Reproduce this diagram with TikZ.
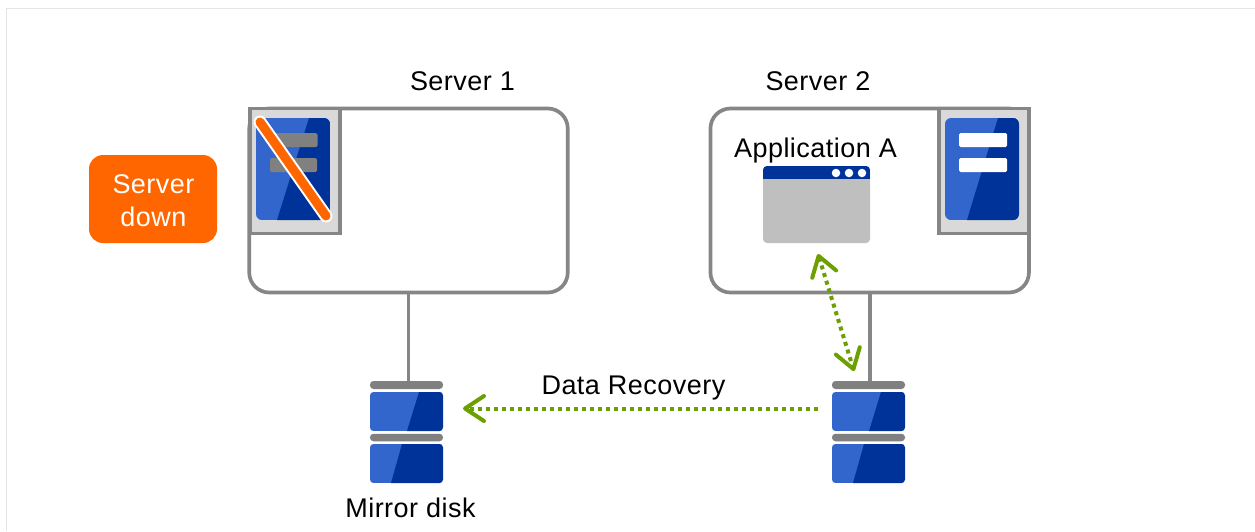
\documentclass[tikz,border=0pt]{standalone}
\usepackage{fontspec}
\setmainfont{Liberation Sans}[LetterSpace=1.8]
\usetikzlibrary{arrows.meta}
\definecolor{lineg}{HTML}{868686}
\definecolor{boxg}{HTML}{D9D9D9}
\definecolor{barg}{HTML}{808080}
\definecolor{wing}{HTML}{BFBFBF}
\definecolor{blueL}{HTML}{3366CC}
\definecolor{blueD}{HTML}{003399}
\definecolor{green}{HTML}{6C9F00}
\definecolor{orng}{HTML}{FF6600}
\newcommand{\darkpanel}[7]{%
  \begin{scope}
    \path[clip,rounded corners=#7] (#1,#2) rectangle (#3,#4);
    \fill[blueL] (#1,#2) rectangle (#3,#4);
    \fill[blueD] (#5,#2) -- (#3,#2) -- (#3,#4) -- (#6,#4) -- cycle;
  \end{scope}}
\newcommand{\diskicon}[2]{% #1 = x offset, #2 = name
  \begin{scope}[shift={(#1,0)}]
    \node[capbar,minimum height=8pt] (#2) at (36.5,385) {};
    \darkpanel{0}{392}{73}{431}{49}{37}{3.5}
    \node[capbar,minimum height=7.5pt] (#2b) at (36.5,437.5) {};
    \darkpanel{0}{444}{73}{483}{32}{21}{3.5}
  \end{scope}}
\tikzset{
  server/.style={draw=lineg,line width=3.7pt,fill=white,rounded corners=20pt,inner sep=0pt,outer sep=0pt,minimum width=318.5pt,minimum height=184pt},
  iconbox/.style={draw=lineg,line width=3.7pt,fill=boxg,inner sep=0pt,outer sep=0pt,minimum width=90pt,minimum height=125pt},
  capbar/.style={fill=barg,rounded corners=3.5pt,inner sep=0pt,outer sep=0pt,minimum width=73pt},
  slot/.style={rounded corners=1.5pt,inner sep=0pt,minimum width=48pt,minimum height=14pt},
  lbl/.style={font=\fontsize{27}{33}\selectfont,anchor=base,inner sep=0pt,text=black},
  link/.style={draw=lineg,line width=3.7pt},
  flow/.style={draw=green,line width=4pt,dash pattern=on 4pt off 4pt},
  barb/.tip={Straight Barb[length=19pt,width=25pt,line width=4pt,round]},
}
\begin{document}
\begin{tikzpicture}[x=1pt,y=-1pt]
\useasboundingbox (0,0) rectangle (1255,531);
\fill[white] (0,0) rectangle (1255,531);
\draw[draw=black!10,line width=1.4pt] (6.5,531) -- (6.5,8.5) -- (1255,8.5);

% servers
\node[server] (srv1) at (408.5,200.5) {};
\node[server] (srv2) at (869.7,200.5) {};
\node[iconbox] (box1) at (295,171) {};
\node[iconbox] (box2) at (984,171) {};

% server 1 icon
\darkpanel{256}{118}{330}{220}{309}{277}{6}
\node[slot,fill=barg,minimum width=45pt] (bar1a) at (295,140) {};
\node[slot,fill=barg,minimum width=47pt] (bar1b) at (293.5,165) {};
\coordinate (strikeA) at (260,122);
\coordinate (strikeB) at (326,216);
\draw[white,line width=13pt,line cap=round] (strikeA) -- (strikeB);
\draw[orng,line width=9pt,line cap=round] (strikeA) -- (strikeB);

% server 2 icon
\darkpanel{945}{118}{1019}{220}{998}{967}{6}
\node[slot,fill=white] (bar2a) at (983,140) {};
\node[slot,fill=white] (bar2b) at (983,165) {};

% application window
\node[fill=wing,rounded corners=4pt,inner sep=0pt,minimum width=107pt,minimum height=77pt] (win) at (816.5,204.5) {};
\begin{scope}
  \path[clip,rounded corners=4pt] (763,166) rectangle (870,243);
  \fill[blueD] (763,166) rectangle (870,179);
\end{scope}
\foreach \i/\dx in {a/836,b/849,c/862}
  \node[circle,fill=white,inner sep=0pt,minimum size=8.5pt] (dot\i) at (\dx,173) {};

% disks
\diskicon{370}{disk1}
\diskicon{832}{disk2}

% connectors
\draw[link] (srv1.south) -- (srv1.south |- disk1.north);
\draw[link] (srv2.south) -- (srv2.south |- disk2.north);
\coordinate (recS) at (818,408.5);
\coordinate (recT) at (463,408.5);
\coordinate (appA) at (818,254);
\coordinate (appB) at (854,371);
\draw[flow,-{barb}] (recS) -- (recT);
\draw[flow,{barb}-{barb}] (appA) -- (appB);

% status badge
\node[fill=orng,rounded corners=14pt,inner sep=0pt,minimum width=128pt,minimum height=88pt] (down) at (153,199) {};
\node[lbl,text=white] (t1) at (153.5,193.5) {Server};
\node[lbl,text=white] (t2) at (153.5,226.5) {down};

% labels
\node[lbl] (l1) at (462.5,90) {Server 1};
\node[lbl] (l2) at (818,90) {Server 2};
\node[lbl] (l3) at (815.5,157) {Application A};
\node[lbl] (l4) at (633.5,394) {Data Recovery};
\node[lbl] (l5) at (410.5,517) {Mirror disk};
\end{tikzpicture}
\end{document}
